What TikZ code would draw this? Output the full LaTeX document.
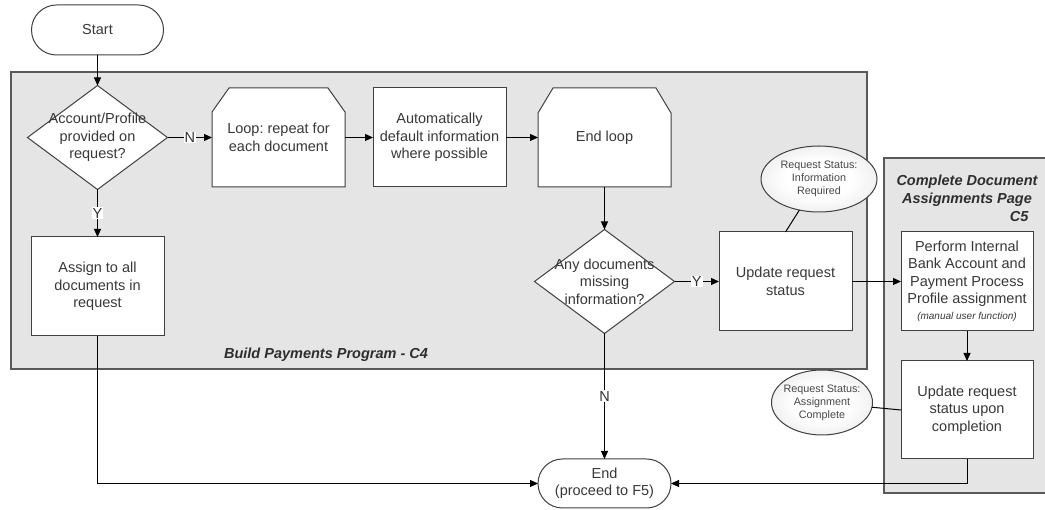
\documentclass[tikz,border=0pt]{standalone}
\usepackage{fontspec}
\setmainfont{Liberation Sans}
\usetikzlibrary{arrows.meta,shapes.geometric,calc}
\frenchspacing
\pgfdeclarelayer{panel}
\pgfdeclarelayer{outline}
\pgfsetlayers{panel,outline,main}

% soft white-to-grey fill for the status callouts
\pgfdeclareradialshading{statusfill}{\pgfpoint{0bp}{0bp}}{%
  color(0bp)=(white); color(14bp)=(white); color(38bp)=(black!12);
  color(50bp)=(black!26); color(100bp)=(black!26)}

\tikzset{
  txt/.style={font=\fontsize{14.5}{17.5}\selectfont, align=center, text=black!78},
  box/.style={txt, draw=black!75, line width=1pt, fill=white,
    minimum width=133pt, minimum height=99pt, inner sep=0pt, outer sep=0pt},
  hollow/.style={txt, minimum width=133pt, minimum height=99pt, inner sep=0pt, outer sep=0pt},
  chamfer/.style={draw=black!75, line width=1pt, fill=white, line join=miter},
  terminal/.style={txt, draw=black!75, line width=1pt, fill=white, rounded corners=24.5pt,
    minimum width=133pt, minimum height=49pt, inner sep=0pt, outer sep=0pt},
  decision/.style={diamond, draw=black!75, line width=1pt, fill=white,
    minimum width=140pt, minimum height=104pt, inner sep=0pt, outer sep=0pt},
  status/.style={ellipse, draw=black!75, line width=1pt, shading=statusfill,
    font=\fontsize{10.8}{13}\selectfont, align=center, text=black!72,
    inner xsep=-6pt, inner ysep=0pt, outer sep=0pt},
  flow/.style={line width=1pt, -{Triangle[length=8pt,width=7pt]}},
  link/.style={line width=1pt},
  lbl/.style={fill=white, inner sep=1pt, font=\fontsize{14.5}{17}\selectfont, text=black!80},
  panelbox/.style={draw=black!65, line width=1.5pt, fill=black!10, inner sep=0pt, outer sep=0pt},
  title/.style={font=\fontsize{14.5}{17.5}\selectfont\bfseries\itshape, align=center, text=black!82},
}

\begin{document}
\begin{tikzpicture}[x=1pt,y=-1pt]
\useasboundingbox (0,0) rectangle (1045,510);

% shaded swimlane panels
\begin{pgfonlayer}{panel}
  \node[panelbox, minimum width=856pt, minimum height=297pt] (build) at (439,220.5) {};
  \begin{scope}
    \clip (0,0) rectangle (1045,510);
    \node[panelbox, minimum width=176pt, minimum height=335pt] (assignpage) at (972,325.5) {};
  \end{scope}
\end{pgfonlayer}

% flow nodes
\node[terminal, minimum width=132pt, minimum height=50pt, rounded corners=25pt] (start) at (97.5,30) {Start};
\node[decision] (dec1) at (97.5,137.5) {};
\node[txt] (dec1text) at (dec1.center) {Account/Profile\\provided on\\request?};
\node[hollow] (loop) at (278.5,137.5) {Loop: repeat for\\each document};
\node[box] (auto) at (439.5,137.5) {Automatically\\default information\\where possible};
\node[hollow] (endloop) at (604.5,137.5) {End loop};
\node[decision] (dec2) at (604.5,281.5) {};
\node[txt] (dec2text) at (dec2.center) {Any documents\\missing\\information?};
\node[box] (upd) at (785.5,281.5) {Update request\\status};
\node[status, minimum width=116pt, minimum height=66pt] (ell1) at (819,179) {Request Status:\\Information\\Required};
\node[box, minimum width=132pt] (perform) at (967,281.5)
  {Perform Internal\\Bank Account and\\Payment Process\\Profile assignment\\[-1.5pt]{\fontsize{10}{12}\selectfont\itshape (manual user function)}};
\node[box, minimum width=132pt, minimum height=98pt] (upd2) at (967,410) {Update request\\status upon\\completion};
\node[status, minimum width=101pt, minimum height=65pt] (ell2) at (822,402.5) {Request Status:\\Assignment\\Complete};
\node[box] (assign) at (97.5,286.5) {Assign to all\\documents in\\request};
\node[terminal] (endt) at (604.5,483.5) {End\\(proceed to F5)};

% panel titles
\node[title] (c4title) at (326,355) {Build Payments Program - C4};
\node[title] (c5title) at (967,191) {Complete Document\\Assignments Page};
\node[title, anchor=east] (c5code) at (1032,217) {C5};

% loop limit outlines (chamfered top corners)
\begin{pgfonlayer}{outline}
  \draw[chamfer] (loop.south west) -- ($(loop.north west)+(0,24)$) -- ($(loop.north west)+(17,0)$)
    -- ($(loop.north east)+(-17,0)$) -- ($(loop.north east)+(0,24)$) -- (loop.south east) -- cycle;
  \draw[chamfer] (endloop.south west) -- ($(endloop.north west)+(0,25)$) -- ($(endloop.north west)+(15,0)$)
    -- ($(endloop.north east)+(-15,0)$) -- ($(endloop.north east)+(0,25)$) -- (endloop.south east) -- cycle;
\end{pgfonlayer}

% connectors
\draw[flow] (start.south) -- (dec1.north);
\draw[flow] (dec1.east) -- node[lbl] {N} (loop.west);
\draw[flow] (loop.east) -- (auto.west);
\draw[flow] (auto.east) -- (endloop.west);
\draw[flow] (endloop.south) -- (dec2.north);
\draw[flow] (dec2.east) -- node[lbl] {Y} (upd.west);
\draw[flow] (upd.east) -- (perform.west);
\draw[flow] (dec1.south) -- node[lbl] {Y} (assign.north);
\draw[flow] (dec2.south) -- node[lbl] {N} (endt.north);
\draw[flow] (assign.south) |- (endt.west);
\draw[flow] (upd2.south) |- (endt.east);
\draw[flow] (perform.south) -- (upd2.north);
\draw[link] (ell1) -- (upd.north);
\draw[link] (ell2) -- (upd2.west);
\end{tikzpicture}
\end{document}
